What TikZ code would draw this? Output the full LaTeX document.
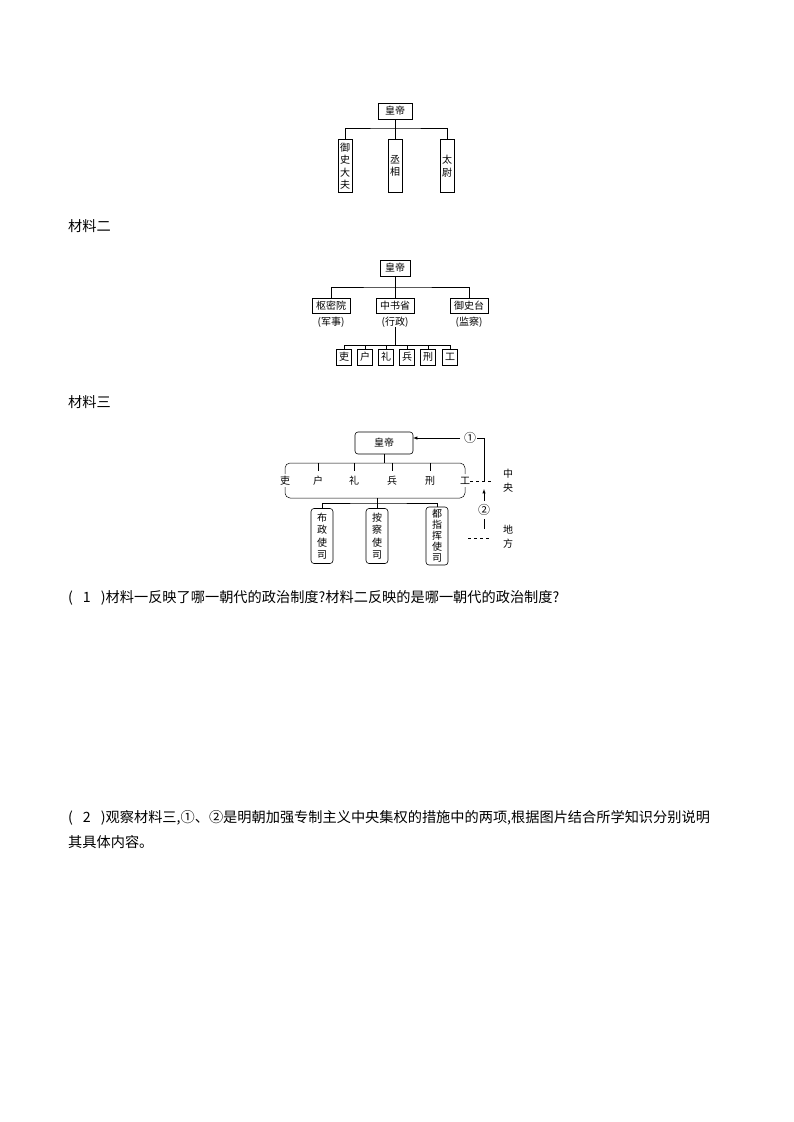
\documentclass[tikz,border=0pt]{standalone}
\usepackage{fontspec}
\setmainfont{Noto Sans CJK SC}
\begin{document}
\begin{tikzpicture}[x=1pt,y=-1pt,
  bx/.style={draw,line width=0.6pt,inner sep=0pt,font=\fontsize{10}{11}\selectfont},
  vb/.style={bx,minimum width=14,align=center,font=\fontsize{10}{12.5}\selectfont},
  lbl/.style={inner sep=0pt,font=\fontsize{10}{11}\selectfont},
  txt/.style={inner sep=0pt,anchor=west,font=\fontsize{14.2}{24}\selectfont},
  ln/.style={line width=0.5pt}]
\useasboundingbox[fill=white] (0,0) rectangle (793,1122);
% Diagram 1
\node[bx,minimum width=34,minimum height=16] (e1) at (395,111) {皇帝};
\node[vb,minimum height=53] (a1) at (345,166) {御\\史\\大\\夫};
\node[vb,minimum height=53] (a2) at (395,166) {丞\\相};
\node[vb,minimum height=53] (a3) at (447,166) {太\\尉};
\coordinate (j1) at (395,128);
\draw[ln] (e1.south) -- (j1);
\draw[ln] (a1.north) |- (j1) -| (a3.north);
\draw[ln] (j1) -- (a2.north);
\node[txt] (m2) at (68,226) {材料二};
% Diagram 2
\node[bx,minimum width=30,minimum height=16] (e2) at (395,268) {皇帝};
\node[bx,minimum width=38,minimum height=15] (b1) at (331,306) {枢密院};
\node[bx,minimum width=38,minimum height=15] (b2) at (395,306) {中书省};
\node[bx,minimum width=38,minimum height=15] (b3) at (469,306) {御史台};
\node[lbl] (c1) at (331,322) {(军事)};
\node[lbl] (c2) at (395,322) {(行政)};
\node[lbl] (c3) at (469,322) {(监察)};
\coordinate (j2) at (395,287);
\coordinate (j3) at (395,345);
\draw[ln] (e2.south) -- (j2);
\draw[ln] (b1.north) |- (j2) -| (b3.north);
\draw[ln] (j2) -- (b2.north);
\draw[ln] (c2.south) -- (j3);
\foreach \n/\x/\t in {1/344/吏,2/365/户,3/386/礼,4/407/兵,5/428/刑,6/450/工}{
  \node[bx,minimum width=15,minimum height=16] (d\n) at (\x,357) {\t};
  \draw[ln] (d\n.north) -- (\x,345);
}
\draw[ln] (d1.north |- j3) -- (d6.north |- j3);
\node[txt] (m3) at (68,402) {材料三};
% Diagram 3
\node[bx,rounded corners=3pt,minimum width=58,minimum height=22] (e3) at (384,443) {皇帝};
\draw[ln] (e3.south) -- (384,463);
\draw[ln,rounded corners=5pt] (285,474) -- (285,463) -- (465,463) -- (465,474);
\draw[ln,rounded corners=5pt] (285,487) -- (285,498) -- (465,498) -- (465,487);
\foreach \n/\x/\t in {1/285/吏,2/318/户,3/354/礼,4/392/兵,5/430/刑,6/465/工}{
  \node[lbl] (f\n) at (\x,481) {\t};
}
\foreach \x in {318,354,392,430}{\draw[ln] (\x,463) -- (\x,471);}
\coordinate (j4) at (377,503);
\draw[ln] (377,498) -- (j4);
\node[bx,rounded corners=3pt,minimum width=22,minimum height=55,align=center,font=\fontsize{10}{12.5}\selectfont] (g1) at (322,536) {布\\政\\使\\司};
\node[bx,rounded corners=3pt,minimum width=22,minimum height=55,align=center,font=\fontsize{10}{12.5}\selectfont] (g2) at (377,536) {按\\察\\使\\司};
\node[bx,rounded corners=3pt,minimum width=22,minimum height=58,align=center,font=\fontsize{10}{11}\selectfont] (g3) at (437,536) {都\\指\\挥\\使\\司};
\draw[ln] (g1.north) |- (j4) -| (g3.north);
\draw[ln] (j4) -- (g2.north);
\node[lbl,font=\fontsize{12}{12}\selectfont] (n1) at (470,438) {①};
\coordinate (a1s) at (460,438);
\coordinate (a1e) at (413,438);
\draw[ln,-latex] (a1s) -- (a1e);
\draw[ln] (477,438) -- (484,438) -- (484,481);
\draw[ln,dashed] (470,481) -- (492,481);
\node[lbl,align=center,font=\fontsize{10}{14}\selectfont] (zy) at (508,481) {中\\央};
\node[lbl,font=\fontsize{12}{12}\selectfont] (n2) at (484,510) {②};
\coordinate (a2s) at (484,501);
\coordinate (a2e) at (484,489);
\draw[ln,-latex] (a2s) -- (a2e);
\draw[ln] (484,519) -- (484,529);
\draw[ln,dashed] (468,538) -- (492,538);
\node[lbl,align=center,font=\fontsize{10}{14}\selectfont] (df) at (508,537) {地\\方};
% questions
\node[txt] (q1) at (68,598) {(\hspace{10pt}1\hspace{10pt})材料一反映了哪一朝代的政治制度?材料二反映的是哪一朝代的政治制度?};
\node[txt] (q2) at (68,818) {(\hspace{10pt}2\hspace{10pt})观察材料三,①、②是明朝加强专制主义中央集权的措施中的两项,根据图片结合所学知识分别说明};
\node[txt] (q3) at (68,842) {其具体内容。};
\end{tikzpicture}
\end{document}
